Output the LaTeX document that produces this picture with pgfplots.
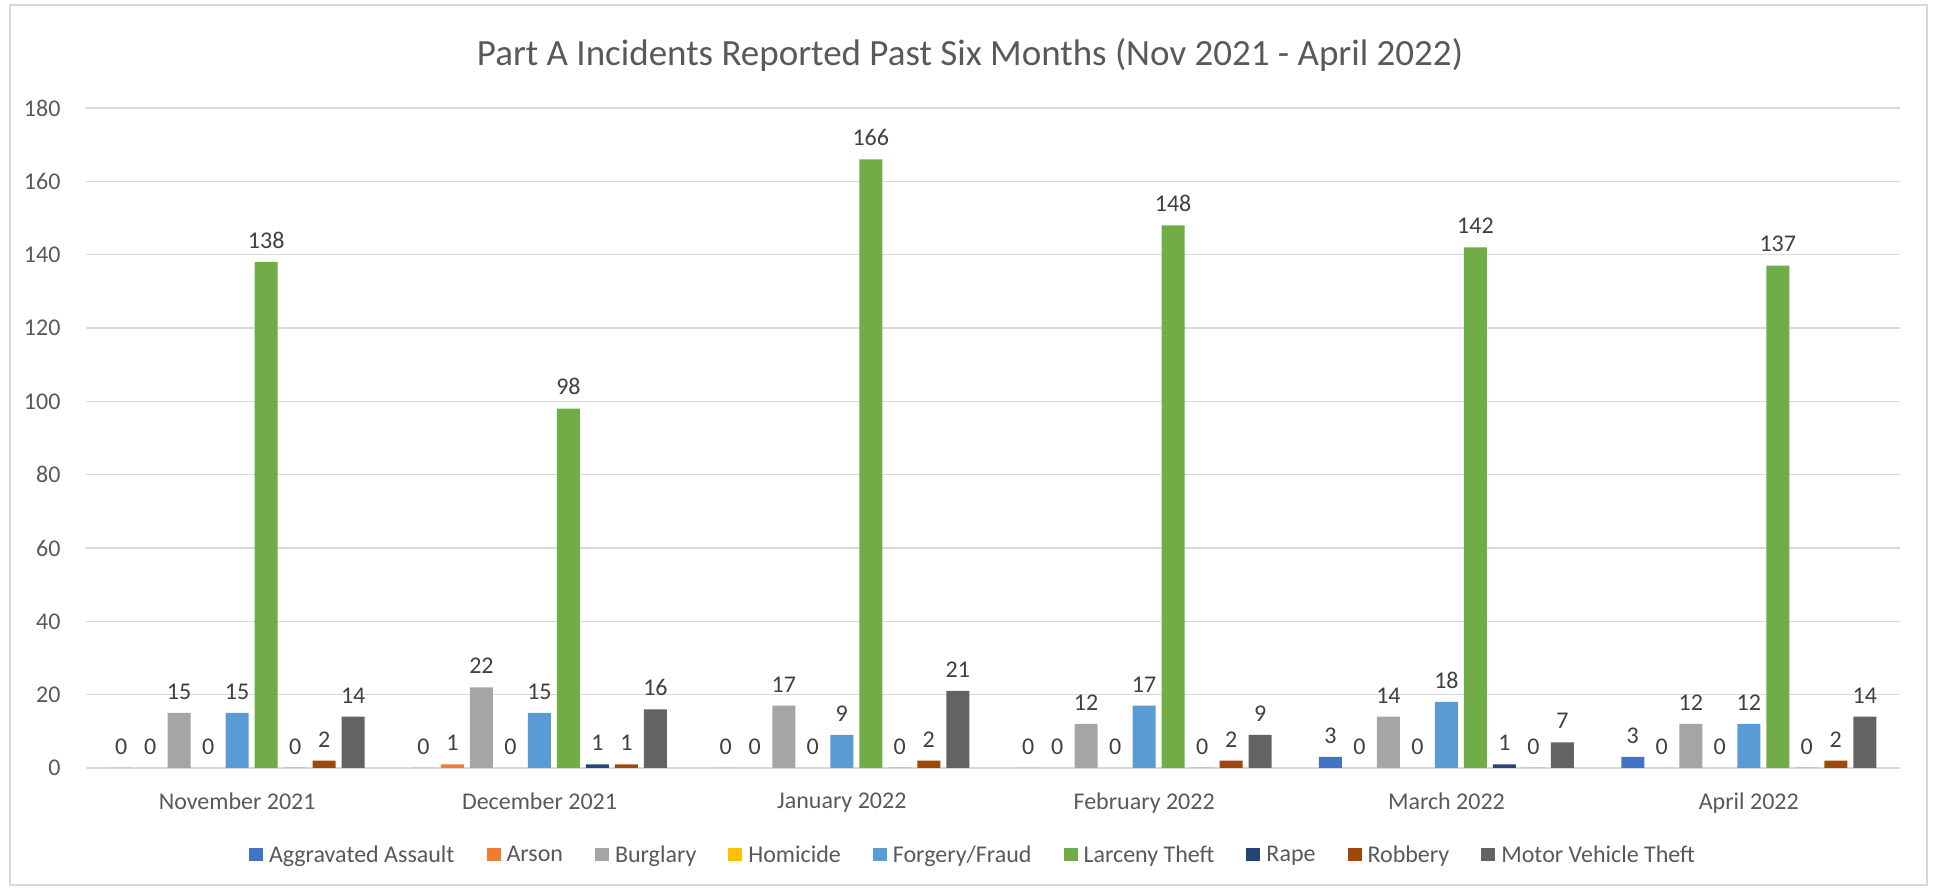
\documentclass[border=0pt]{standalone}
\usepackage{pgfplots}
\pgfplotsset{compat=1.18}
\usepackage{fontspec}
\setmainfont{Carlito}
\definecolor{cAA}{HTML}{4472C4}
\definecolor{cAR}{HTML}{ED7D31}
\definecolor{cBU}{HTML}{A5A5A5}
\definecolor{cHO}{HTML}{FFC000}
\definecolor{cFO}{HTML}{5B9BD5}
\definecolor{cLA}{HTML}{70AD47}
\definecolor{cRA}{HTML}{264478}
\definecolor{cRO}{HTML}{9E480E}
\definecolor{cMV}{HTML}{636363}
\definecolor{txt}{HTML}{595959}
\definecolor{lbl}{HTML}{404040}
\definecolor{gridc}{HTML}{D9D9D9}
\begin{document}
\begin{tikzpicture}[x=1pt,y=1pt]
\path[use as bounding box] (0,0) rectangle (1933,889);
\draw[gridc, line width=1.5pt] (10,4) rectangle (1927,884);
\node[txt, font=\fontsize{37}{44}\selectfont] at (970,834) {Part A Incidents Reported Past Six Months (Nov 2021 - April 2022)};
\begin{axis}[
  at={(86pt,121pt)}, anchor=south west,
  scale only axis, width=1814pt, height=660pt,
  ybar=6pt, bar width=23pt,
  ymin=0, ymax=180, ytick={0,20,...,180},
  xmin=-0.5, xmax=5.5, xtick={0,1,2,3,4,5},
  xticklabels={November 2021, December 2021, January 2022, February 2022, March 2022, April 2022},
  axis line style={draw=none},
  major tick length=0pt,
  ymajorgrids, grid style={gridc, line width=1.5pt},
  tick label style={font=\fontsize{24}{28}\selectfont, color=txt},
  /pgf/number format/assume math mode=true,
  yticklabel style={xshift=-22pt},
  xticklabel style={yshift=-21pt},
  nodes near coords,
  every node near coord/.append style={font=\fontsize{24}{28}\selectfont, color=lbl, yshift=10pt},
  legend columns=9,
  legend style={at={(0.489,-0.131)}, anchor=center, draw=none, font=\fontsize{24}{28}\selectfont, text=txt,
    nodes={inner sep=2pt},
    /tikz/every odd column/.append style={column sep=4pt},
    /tikz/every even column/.append style={column sep=30pt}},
  legend image code/.code={\fill[#1,draw=none] (0pt,-6.5pt) rectangle (14pt,6.5pt);},
]
\addplot[fill=cAA, draw=none] coordinates {(0,0) (1,0) (2,0) (3,0) (4,3) (5,3)};
\addplot[fill=cAR, draw=none] coordinates {(0,0) (1,1) (2,0) (3,0) (4,0) (5,0)};
\addplot[fill=cBU, draw=none] coordinates {(0,15) (1,22) (2,17) (3,12) (4,14) (5,12)};
\addplot[fill=cHO, draw=none] coordinates {(0,0) (1,0) (2,0) (3,0) (4,0) (5,0)};
\addplot[fill=cFO, draw=none] coordinates {(0,15) (1,15) (2,9) (3,17) (4,18) (5,12)};
\addplot[fill=cLA, draw=none] coordinates {(0,138) (1,98) (2,166) (3,148) (4,142) (5,137)};
\addplot[fill=cRA, draw=none] coordinates {(0,0) (1,1) (2,0) (3,0) (4,1) (5,0)};
\addplot[fill=cRO, draw=none] coordinates {(0,2) (1,1) (2,2) (3,2) (4,0) (5,2)};
\addplot[fill=cMV, draw=none] coordinates {(0,14) (1,16) (2,21) (3,9) (4,7) (5,14)};
\legend{Aggravated Assault, Arson, Burglary, Homicide, Forgery/Fraud, Larceny Theft, Rape, Robbery, Motor Vehicle Theft}
\end{axis}
\end{tikzpicture}
\end{document}
